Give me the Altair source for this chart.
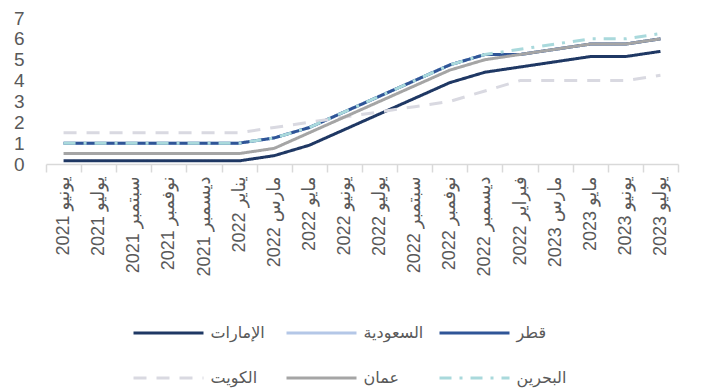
import altair as alt
import pandas as pd

# Category axis (as labelled on the source chart)
months = [
    "يونيو 2021", "يوليو 2021", "سبتمبر 2021", "نوفمبر 2021", "ديسمبر 2021",
    "يناير 2022", "مارس 2022", "مايو 2022", "يونيو 2022", "يوليو 2022",
    "سبتمبر 2022", "نوفمبر 2022", "ديسمبر 2022", "فبراير 2022", "مارس 2023",
    "مايو 2023", "يونيو 2023", "يوليو 2023",
]

# Policy rates (%) per country
uae     = [0.15, 0.15, 0.15, 0.15, 0.15, 0.15, 0.40, 0.90, 1.65, 2.40, 3.15, 3.90, 4.40, 4.65, 4.90, 5.15, 5.15, 5.40]
saudi   = [1.00, 1.00, 1.00, 1.00, 1.00, 1.00, 1.25, 1.75, 2.50, 3.25, 4.00, 4.75, 5.25, 5.25, 5.50, 5.75, 5.75, 6.00]
qatar   = [1.00, 1.00, 1.00, 1.00, 1.00, 1.00, 1.25, 1.75, 2.50, 3.25, 4.00, 4.75, 5.25, 5.25, 5.50, 5.75, 5.75, 6.00]
kuwait  = [1.50, 1.50, 1.50, 1.50, 1.50, 1.50, 1.75, 2.00, 2.25, 2.50, 2.75, 3.00, 3.50, 4.00, 4.00, 4.00, 4.00, 4.25]
oman    = [0.50, 0.50, 0.50, 0.50, 0.50, 0.50, 0.75, 1.50, 2.25, 3.00, 3.75, 4.50, 5.00, 5.25, 5.50, 5.75, 5.75, 6.00]
bahrain = [1.00, 1.00, 1.00, 1.00, 1.00, 1.00, 1.25, 1.75, 2.50, 3.25, 4.00, 4.75, 5.25, 5.50, 5.75, 6.00, 6.00, 6.25]

# Legend order (row by row) and series styling
names  = ["الإمارات", "السعودية", "قطر", "الكويت", "عمان", "البحرين"]
series = [uae, saudi, qatar, kuwait, oman, bahrain]
colors = ["#1F3864", "#B4C7E7", "#2F5597", "#D9D9E1", "#A5A5A5", "#A9D9DC"]
dashes = [[1, 0], [1, 0], [1, 0], [13, 10], [1, 0], [12, 8, 3, 8]]

# Drawing order, bottom to top
draw_order = ["السعودية", "قطر", "الإمارات", "الكويت", "عمان", "البحرين"]

rows = []
for name, vals in zip(names, series):
    for m, v in zip(months, vals):
        rows.append({"country": name, "month": m, "rate": v})
df = pd.DataFrame(rows)

FONT = "Liberation Sans, DejaVu Sans, sans-serif"
GREY = "#595959"

x_enc = alt.X(
    "month:N",
    sort=months,
    scale=alt.Scale(type="band", paddingInner=0, paddingOuter=0),
    axis=alt.Axis(
        title=None, labelAngle=-90, labelFontSize=18, labelColor=GREY, labelFont=FONT,
        domainColor="#D9D9D9", domainWidth=1.5, tickColor="#D9D9D9", tickWidth=1.5,
        tickSize=8, tickBand="extent", labelPadding=4, grid=False, labelOverlap=False,
    ),
)
y_enc = alt.Y(
    "rate:Q",
    scale=alt.Scale(domain=[0, 7], nice=False),
    axis=alt.Axis(
        title=None, values=[0, 1, 2, 3, 4, 5, 6, 7], grid=False, domain=False, ticks=False,
        labelFontSize=19, labelColor=GREY, labelFont=FONT, labelPadding=22,
    ),
)
color_enc = alt.Color("country:N", scale=alt.Scale(domain=names, range=colors), legend=alt.Legend(title=None))
dash_enc = alt.StrokeDash("country:N", scale=alt.Scale(domain=names, range=dashes), legend=alt.Legend(title=None))

base = alt.Chart(df)
layers = [
    base.transform_filter(alt.datum.country == name)
    .mark_line(strokeWidth=3, strokeCap="butt", strokeJoin="round")
    .encode(x=x_enc, y=y_enc, color=color_enc, strokeDash=dash_enc)
    for name in draw_order
]

chart = (
    alt.layer(*layers)
    .properties(
        width=632,
        height=146,
        padding={"left": 46, "top": 18, "right": 29, "bottom": 228},
        autosize=alt.AutoSizeParams(type="none"),
        background="white",
    )
    .configure_view(stroke=None)
    .configure_legend(
        orient="none",
        direction="horizontal",
        legendX=87,
        legendY=307,
        columns=3,
        gridAlign="all",
        padding=0,
        symbolType="M-7,0L7,0",
        symbolSize=100,
        symbolStrokeWidth=3,
        symbolOffset=27.5,
        labelOffset=34,
        labelFontSize=16,
        labelColor=GREY,
        labelFont=FONT,
        rowPadding=29,
        columnPadding=9,
        labelLimit=200,
    )
)

chart.save("out.html", embed_options={"renderer": "svg", "actions": False})
